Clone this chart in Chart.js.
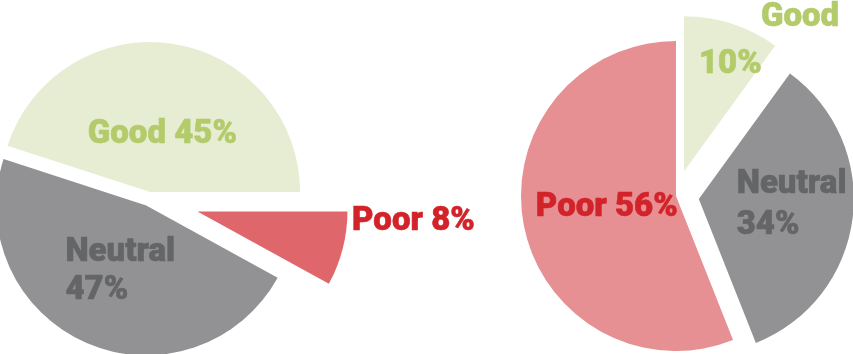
<!DOCTYPE html>
<html>
<head>
<meta charset="utf-8">
<script src="https://cdn.jsdelivr.net/npm/chart.js@4.4.1/dist/chart.umd.min.js"></script>
<style>
  html, body { margin: 0; padding: 0; background: #fff; }
  #wrap { position: relative; width: 853px; height: 354px; overflow: hidden; }
  #wrap canvas { position: absolute; left: 0; top: 0; }
</style>
</head>
<body>
<div id="wrap">
  <canvas id="pieLeft" width="853" height="354"></canvas>
  <canvas id="pieRight" width="853" height="354"></canvas>
</div>
<script>
// left pie, slices clockwise from 3 o'clock
const leftCategories = ["Poor", "Neutral", "Good"];
const leftValues = [8, 47, 45];

// right pie, slices clockwise from 12 o'clock
const rightCategories = ["Good", "Neutral", "Poor"];
const rightValues = [10, 34, 56];

const FILL = { Good: "#e6edd3", Neutral: "#929294", Poor: "#df676c" };
const TEXT = { Good: "#b3cb6a", Neutral: "#646567", Poor: "#d2232a" };
const FONT = "900 33px Roboto, 'Liberation Sans', sans-serif";

// pull each slice out along its middle angle by a few pixels
function explode(shifts) {
  return {
    id: "explode",
    beforeDatasetDraw(chart, args) {
      const ctx = chart.ctx;
      args.meta.data.forEach((arc, i) => {
        const mid = (arc.startAngle + arc.endAngle) / 2;
        ctx.save();
        ctx.translate(Math.cos(mid) * shifts[i], Math.sin(mid) * shifts[i]);
        arc.draw(ctx);
        ctx.restore();
      });
      return false;
    }
  };
}

// labels: one line "Cat N%" or two lines [Cat, N%], each placed off the slice centre
function sliceLabels(categories, values, shifts, spots) {
  return {
    id: "sliceLabels",
    afterDatasetsDraw(chart) {
      const ctx = chart.ctx;
      const arcs = chart.getDatasetMeta(0).data;
      ctx.save();
      ctx.font = FONT;
      ctx.textAlign = "left";
      ctx.textBaseline = "alphabetic";
      ctx.lineWidth = 0.6;
      ctx.lineJoin = "round";
      arcs.forEach((arc, i) => {
        const mid = (arc.startAngle + arc.endAngle) / 2;
        const p = arc.tooltipPosition();
        const ax = p.x + Math.cos(mid) * shifts[i];
        const ay = p.y + Math.sin(mid) * shifts[i];
        const cat = categories[i];
        const pct = values[i] + "%";
        const lines = spots[i].length === 1 ? [cat + " " + pct] : [cat, pct];
        ctx.fillStyle = TEXT[cat];
        ctx.strokeStyle = TEXT[cat];
        lines.forEach((txt, k) => {
          const x = ax + spots[i][k][0];
          const y = ay + spots[i][k][1];
          ctx.fillText(txt, x, y);
          ctx.strokeText(txt, x, y);
        });
      });
      ctx.restore();
    }
  };
}

function makePie(id, categories, values, colors, opts) {
  return new Chart(document.getElementById(id), {
    type: "pie",
    data: {
      labels: categories,
      datasets: [{
        data: values,
        backgroundColor: colors,
        borderWidth: 0
      }]
    },
    options: {
      responsive: false,
      animation: false,
      events: [],
      rotation: opts.rotation,
      radius: opts.radius,
      layout: { padding: opts.padding },
      plugins: {
        legend: { display: false },
        tooltip: { enabled: false }
      }
    },
    plugins: [explode(opts.shifts), sliceLabels(categories, values, opts.shifts, opts.spots)]
  });
}

makePie("pieLeft", leftCategories, leftValues,
  leftCategories.map(c => FILL[c]), {
    rotation: 90,
    radius: 150,
    padding: { left: 0, right: 555, top: 44, bottom: 0 },
    shifts: [50, 7, 7],
    spots: [
      [[82, 0]],
      [[-51, -13], [-51, 25]],
      [[-74, 25]]
    ]
  });

makePie("pieRight", rightCategories, rightValues,
  [FILL.Good, FILL.Neutral, "#e69093"], {
    rotation: 0,
    radius: 155,
    padding: { left: 499, right: 0, top: 38, bottom: 0 },
    shifts: [26, 23, 0],
    spots: [
      [[53, -72], [-9, -25]],
      [[-39, -16], [-39, 25]],
      [[-64, 5]]
    ]
  });
</script>
</body>
</html>
